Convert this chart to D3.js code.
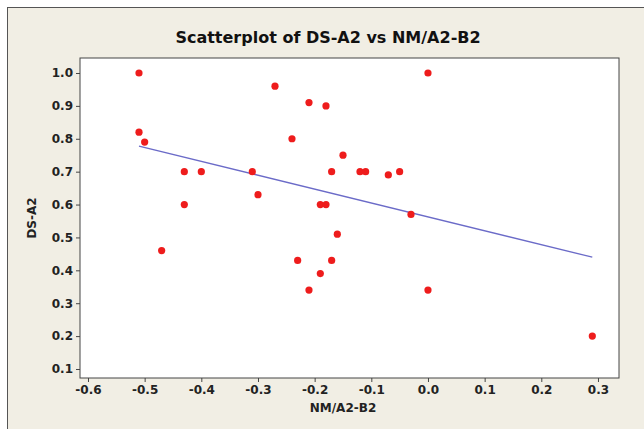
<!DOCTYPE html>
<html>
<head>
<meta charset="utf-8">
<script src="https://cdn.jsdelivr.net/npm/d3@7"></script>
<style>
  body { margin: 0; background: #fff; }
  text { font-family: Tahoma, "DejaVu Sans", sans-serif; }
</style>
</head>
<body>
<svg id="chart" width="644" height="429"></svg>
<script>
// values
var nmA2B2 = [-0.51, -0.51, -0.50, -0.43, -0.40, -0.43, -0.47, -0.27, -0.31, -0.30,
              -0.24, -0.21, -0.18, -0.23, -0.21, -0.19, -0.18, -0.19, -0.17, -0.16,
              -0.15, -0.17, -0.12, -0.11, -0.07, -0.05, -0.03, 0.00, 0.00, 0.29];
var dsA2 = [1.00, 0.82, 0.79, 0.70, 0.70, 0.60, 0.46, 0.96, 0.70, 0.63,
            0.80, 0.91, 0.90, 0.43, 0.34, 0.60, 0.60, 0.39, 0.43, 0.51,
            0.75, 0.70, 0.70, 0.70, 0.69, 0.70, 0.57, 1.00, 0.34, 0.20];
var xTicks = [-0.6, -0.5, -0.4, -0.3, -0.2, -0.1, 0.0, 0.1, 0.2, 0.3];
var yTicks = [0.1, 0.2, 0.3, 0.4, 0.5, 0.6, 0.7, 0.8, 0.9, 1.0];

var svg = d3.select("#chart"),
    width = +svg.attr("width"),
    height = +svg.attr("height");

// panel background and outer frame
svg.append("rect")
    .attr("x", 0).attr("y", 0)
    .attr("width", width).attr("height", height)
    .attr("fill", "#ffffff");
svg.append("rect")
    .attr("x", 7.5).attr("y", 7.5)
    .attr("width", 660).attr("height", 440)
    .attr("fill", "#f1eee4")
    .attr("stroke", "#555")
    .attr("stroke-width", 1);

var plot = { left: 80, top: 58, right: 619, bottom: 378 };

var x = d3.scaleLinear().domain([-0.6141, 0.3371]).range([plot.left, plot.right]);
var y = d3.scaleLinear().domain([0.0726, 1.0456]).range([plot.bottom, plot.top]);

svg.append("rect")
    .attr("x", plot.left).attr("y", plot.top)
    .attr("width", plot.right - plot.left).attr("height", plot.bottom - plot.top)
    .attr("fill", "#fff")
    .attr("stroke", "#444");

svg.append("g")
    .attr("transform", "translate(0," + plot.bottom + ")")
    .call(d3.axisBottom(x).tickValues(xTicks).tickFormat(d3.format(".1f")).tickSize(4).tickPadding(3))
    .call(function(g) { g.select(".domain").remove(); })
    .selectAll("text")
    .attr("font-size", 12).attr("font-weight", "bold").attr("fill", "#222")
    .text(function(d) { return d3.format(".1f")(d).replace("−", "-"); });

svg.append("g")
    .attr("transform", "translate(" + plot.left + ",0)")
    .call(d3.axisLeft(y).tickValues(yTicks).tickFormat(d3.format(".1f")).tickSize(4).tickPadding(3))
    .call(function(g) { g.select(".domain").remove(); })
    .selectAll("text")
    .attr("font-size", 12).attr("font-weight", "bold").attr("fill", "#222");

svg.selectAll(".tick line").attr("stroke", "#444");

// least squares fit
var mx = d3.mean(nmA2B2), my = d3.mean(dsA2);
var sxy = d3.sum(nmA2B2, function(v, i) { return (v - mx) * (dsA2[i] - my); });
var sxx = d3.sum(nmA2B2, function(v) { return (v - mx) * (v - mx); });
var slope = sxy / sxx, icpt = my - slope * mx;
var xr = d3.extent(nmA2B2);

svg.append("line")
    .attr("x1", x(xr[0])).attr("y1", y(icpt + slope * xr[0]))
    .attr("x2", x(xr[1])).attr("y2", y(icpt + slope * xr[1]))
    .attr("stroke", "#6b6bc8")
    .attr("stroke-width", 1.3);

svg.selectAll(".dot")
    .data(nmA2B2)
  .enter().append("circle")
    .attr("class", "dot")
    .attr("cx", function(d) { return x(d); })
    .attr("cy", function(d, i) { return y(dsA2[i]); })
    .attr("r", 3.6)
    .attr("fill", "#ee1c1c");

svg.append("text")
    .attr("x", 328).attr("y", 43)
    .attr("text-anchor", "middle")
    .attr("font-size", 16).attr("font-weight", "bold").attr("fill", "#111")
    .text("Scatterplot of DS-A2 vs NM/A2-B2");

svg.append("text")
    .attr("x", 343).attr("y", 412)
    .attr("text-anchor", "middle")
    .attr("font-size", 12).attr("font-weight", "bold").attr("fill", "#222")
    .text("NM/A2-B2");

svg.append("text")
    .attr("transform", "translate(36,218) rotate(-90)")
    .attr("text-anchor", "middle")
    .attr("font-size", 12).attr("font-weight", "bold").attr("fill", "#222")
    .text("DS-A2");
</script>
</body>
</html>
